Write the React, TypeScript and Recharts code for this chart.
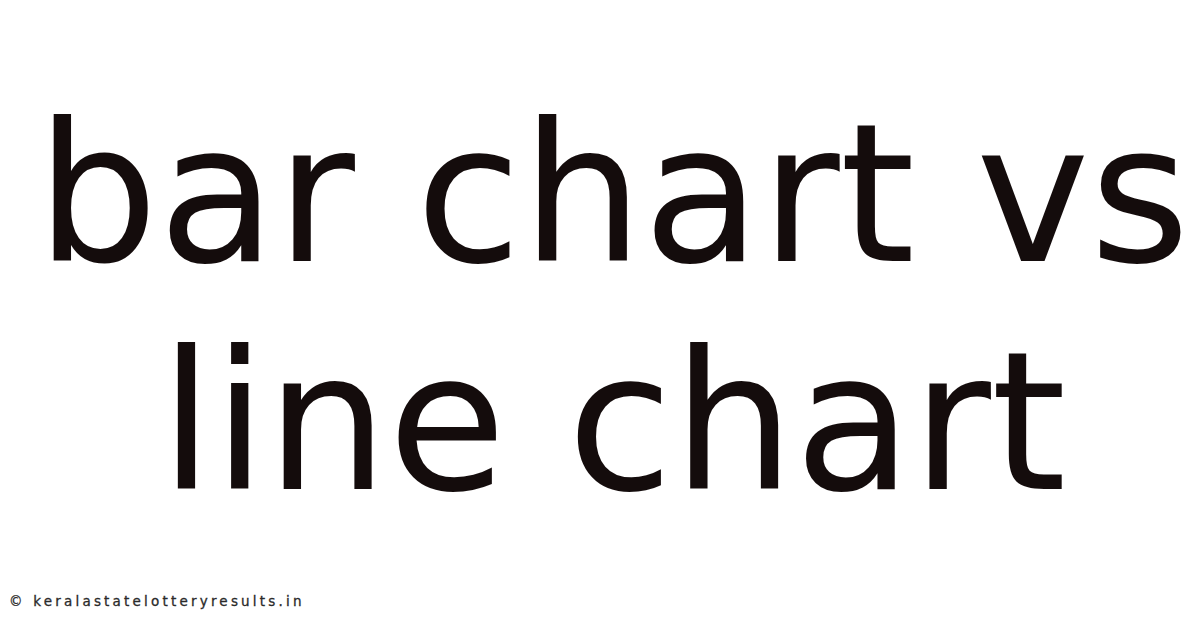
import React from "react";
import { BarChart, Customized } from "recharts";

// headline lines and the site watermark, as they appear on the card
const titleLines = ["bar chart vs", "line chart"];
const titleBaselines = [261, 489];
const watermark = "© keralastatelotteryresults.in";

const TEXT_COLOR = "#140c0c";

const Headline = () => (
  <g>
    {titleLines.map((line, i) => (
      <text
        key={`line-${i}`}
        x={613}
        y={titleBaselines[i]}
        textAnchor="middle"
        fontFamily="DejaVu Sans"
        fontSize={192}
        fill={TEXT_COLOR}
      >
        {line}
      </text>
    ))}
    <text
      x={9}
      y={606}
      fontFamily="DejaVu Sans"
      fontSize={13.5}
      letterSpacing={3.2}
      stroke="#2a2a2a"
      strokeWidth={0.3}
      fill="#2a2a2a"
    >
      {watermark}
    </text>
  </g>
);

const App = () => {
  return (
    <div
      style={{
        position: "absolute",
        top: 0,
        left: 0,
        width: 1200,
        height: 628,
        background: "#ffffff",
      }}
    >
      <BarChart width={1200} height={628} data={[]} margin={{ top: 0, right: 0, bottom: 0, left: 0 }}>
        <Customized component={Headline} />
      </BarChart>
    </div>
  );
};

export default App;
